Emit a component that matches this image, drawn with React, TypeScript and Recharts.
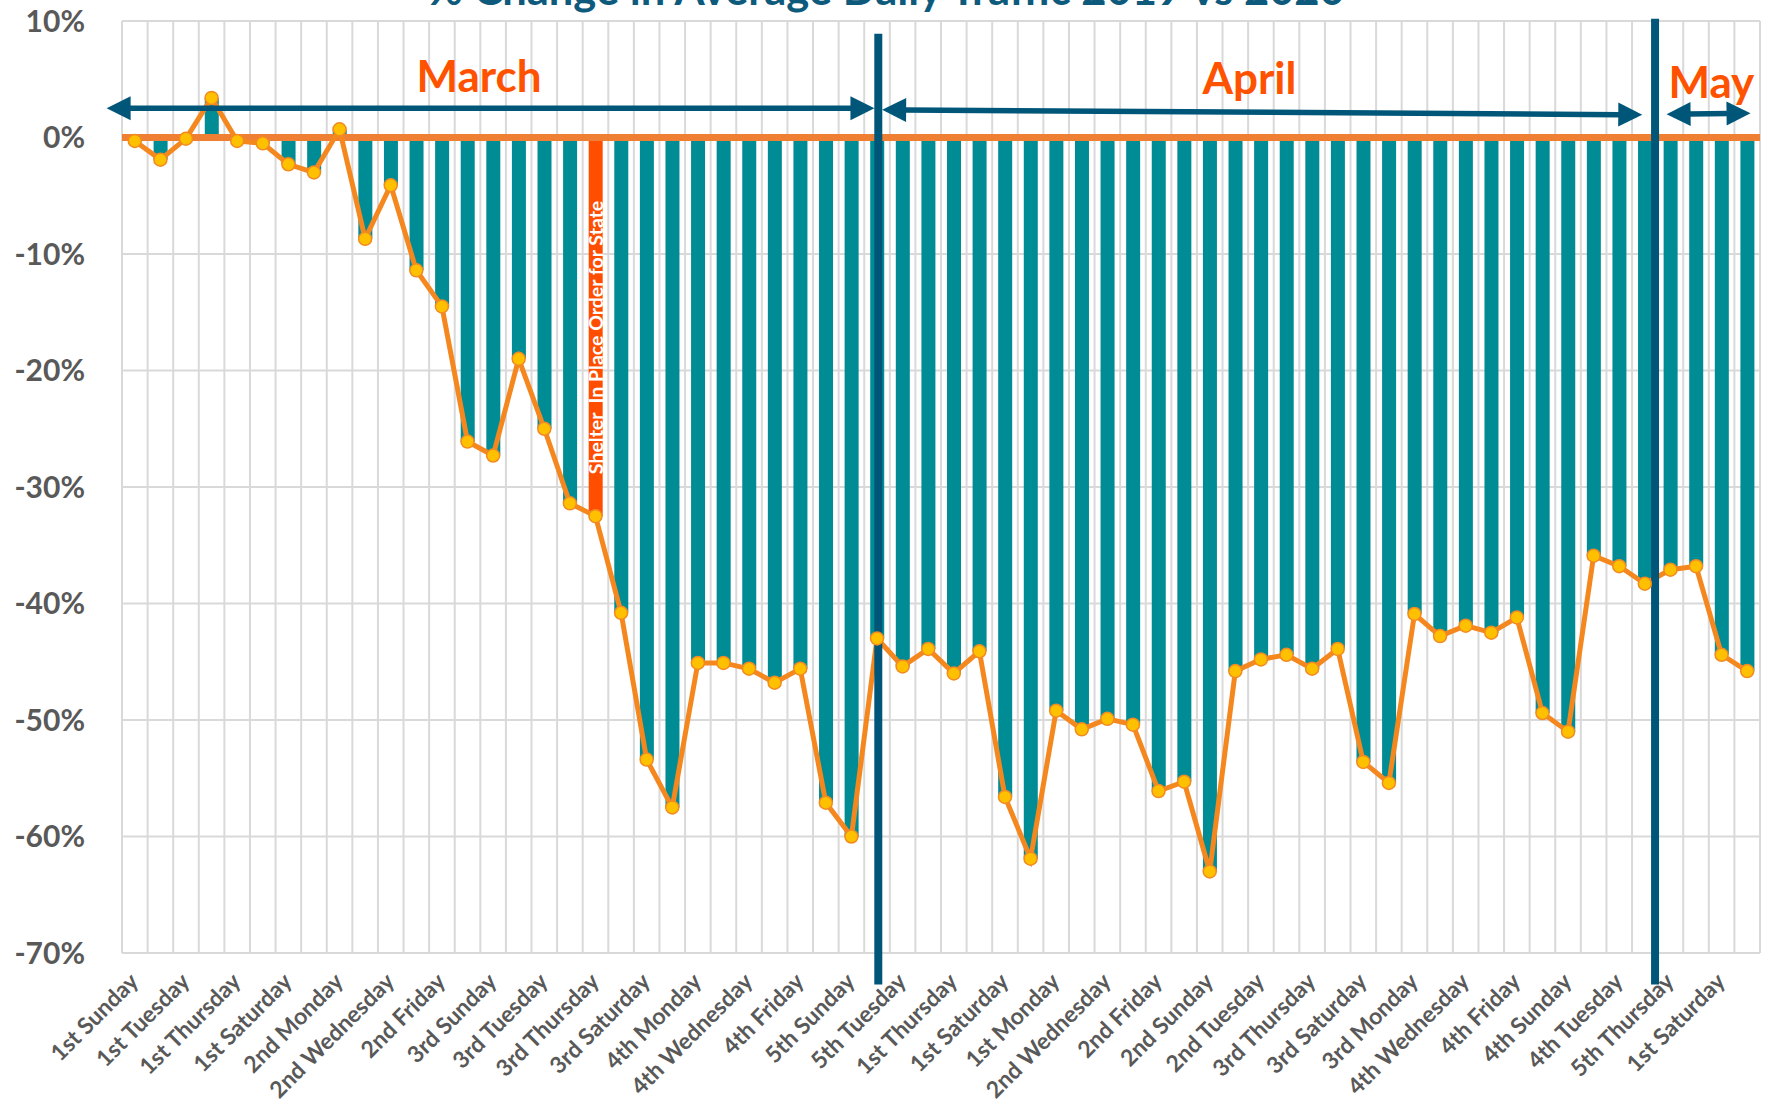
import {
  ComposedChart,
  Bar,
  Line,
  XAxis,
  YAxis,
  CartesianGrid,
  ReferenceLine,
  ReferenceDot,
  Cell,
  LabelList,
} from 'recharts'

// one entry per day, 1 March to 3 May 2020
const dates = [
  '3/1', '3/2', '3/3', '3/4', '3/5', '3/6', '3/7', '3/8', '3/9', '3/10', '3/11', '3/12', '3/13', '3/14', '3/15', '3/16',
  '3/17', '3/18', '3/19', '3/20', '3/21', '3/22', '3/23', '3/24', '3/25', '3/26', '3/27', '3/28', '3/29', '3/30', '3/31',
  '4/1', '4/2', '4/3', '4/4', '4/5', '4/6', '4/7', '4/8', '4/9', '4/10', '4/11', '4/12', '4/13', '4/14', '4/15', '4/16',
  '4/17', '4/18', '4/19', '4/20', '4/21', '4/22', '4/23', '4/24', '4/25', '4/26', '4/27', '4/28', '4/29', '4/30',
  '5/1', '5/2', '5/3',
]

const dayLabels = [
  '1st Sunday', '1st Monday', '1st Tuesday', '1st Wednesday', '1st Thursday', '1st Friday', '1st Saturday',
  '2nd Sunday', '2nd Monday', '2nd Tuesday', '2nd Wednesday', '2nd Thursday', '2nd Friday', '2nd Saturday',
  '3rd Sunday', '3rd Monday', '3rd Tuesday', '3rd Wednesday', '3rd Thursday', '3rd Friday', '3rd Saturday',
  '4th Sunday', '4th Monday', '4th Tuesday', '4th Wednesday', '4th Thursday', '4th Friday', '4th Saturday',
  '5th Sunday', '5th Monday', '5th Tuesday',
  '1st Wednesday', '1st Thursday', '1st Friday', '1st Saturday', '1st Sunday', '1st Monday', '1st Tuesday',
  '2nd Wednesday', '2nd Thursday', '2nd Friday', '2nd Saturday', '2nd Sunday', '2nd Monday', '2nd Tuesday',
  '3rd Wednesday', '3rd Thursday', '3rd Friday', '3rd Saturday', '3rd Sunday', '3rd Monday', '3rd Tuesday',
  '4th Wednesday', '4th Thursday', '4th Friday', '4th Saturday', '4th Sunday', '4th Monday', '4th Tuesday',
  '5th Wednesday', '5th Thursday',
  '1st Friday', '1st Saturday', '1st Sunday',
]

// % change in average daily traffic, 2019 vs 2020
const changePct = [
  -0.3, -1.9, -0.1, 3.4, -0.3, -0.5, -2.3, -3.0, 0.7, -8.7, -4.1, -11.4, -14.5, -26.1, -27.3, -19.0,
  -25.0, -31.4, -32.5, -40.8, -53.4, -57.5, -45.1, -45.1, -45.6, -46.8, -45.6, -57.1, -60.0, -43.0, -45.4,
  -43.9, -46.0, -44.1, -56.6, -61.9, -49.2, -50.8, -49.9, -50.4, -56.1, -55.3, -63.0, -45.8, -44.8, -44.4,
  -45.6, -43.9, -53.6, -55.4, -40.9, -42.8, -41.9, -42.5, -41.2, -49.4, -51.0, -35.9, -36.8, -38.3, -37.1,
  -36.8, -44.4, -45.8,
]

const yTicks = [-70, -60, -50, -40, -30, -20, -10, 0, 10]

const shelterDate = '3/19'
const shelterText = 'Shelter  In Place Order for State'

// month annotations, in day units (0..64 across the plot) and % units
const monthLabels = [
  { text: 'March', x: 13.95, y: 3.9 },
  { text: 'April', x: 44.05, y: 3.7 },
  { text: 'May', x: 62.1, y: 3.4 },
]
const monthArrows = [
  { x1: -0.6, y1: 2.52, x2: 29.4, y2: 2.52 },
  { x1: 29.7, y1: 2.38, x2: 59.4, y2: 1.95 },
  { x1: 60.35, y1: 2.0, x2: 63.63, y2: 2.08 },
]
const monthDividers = [
  { x: 29.55, top: 8.9, bottom: -72.7 },
  { x: 59.9, top: 10.2, bottom: -72.7 },
]

const data = dates.map((date, i) => ({ date, pct: changePct[i] }))
const labelByDate: Record<string, string> = Object.fromEntries(dates.map((d, i) => [d, dayLabels[i]]))

const TEAL = '#008C95'
const RED = '#FF4E00'
const ORANGE = '#F5871F'
const NAVY = '#005679'
const GRAY = '#595959'
const FONT = 'Lato, "Open Sans", sans-serif'

function DayTick({ x, y, payload }: any) {
  return (
    <text
      transform={`translate(${x + 5},${y + 30}) rotate(-45)`}
      textAnchor="end"
      fill={GRAY}
      fontSize={23}
      fontWeight={700}
      fontFamily={FONT}
    >
      {labelByDate[payload.value]}
    </text>
  )
}

function ShelterLabel(props: any) {
  const { x, y, width, height, index } = props
  if (dates[index] !== shelterDate) return null
  const cx = x + width / 2
  const bottom = Math.max(y, y + height)
  const sy = bottom - 42
  return (
    <text
      transform={`translate(${cx},${sy}) rotate(-90)`}
      textAnchor="start"
      dominantBaseline="central"
      fill="#ffffff"
      fontSize={19.5}
      fontWeight={700}
      fontFamily={FONT}
      style={{ whiteSpace: 'pre' }}
    >
      {shelterText}
    </text>
  )
}

const arrowShape = (p: any) => {
  const { x1, y1, x2, y2 } = p
  const len = Math.hypot(x2 - x1, y2 - y1)
  const ux = (x2 - x1) / len
  const uy = (y2 - y1) / len
  const L = 24
  const W = 12
  const head = (tx: number, ty: number, dx: number, dy: number) => {
    const bx = tx - dx * L
    const by = ty - dy * L
    return `${tx},${ty} ${bx - dy * W},${by + dx * W} ${bx + dy * W},${by - dx * W}`
  }
  return (
    <g>
      <line
        x1={x1 + ux * (L - 2)}
        y1={y1 + uy * (L - 2)}
        x2={x2 - ux * (L - 2)}
        y2={y2 - uy * (L - 2)}
        stroke={NAVY}
        strokeWidth={5.5}
      />
      <polygon points={head(x1, y1, -ux, -uy)} fill={NAVY} />
      <polygon points={head(x2, y2, ux, uy)} fill={NAVY} />
    </g>
  )
}

export default function App() {
  return (
    <div style={{ position: 'absolute', left: 0, top: 0, width: 1769, height: 1104, background: '#fff' }}>
      <svg width={1769} height={40} style={{ position: 'absolute', left: 0, top: 0 }}>
        <text x={886} y={5} textAnchor="middle" fill="#0E5A7C" fontSize={43.5} fontWeight={700} fontFamily={FONT}>
          % Change in Average Daily Traffic 2019 vs 2020
        </text>
      </svg>
      <ComposedChart width={1769} height={1104} data={data} margin={{ top: 21, right: 9, bottom: 0, left: 0 }}>
        <CartesianGrid
          stroke="#D9D9D9"
          strokeWidth={2}
          verticalCoordinatesGenerator={({ offset }: any) =>
            dates.concat(['end']).map((_, i) => offset.left + (i * offset.width) / dates.length)
          }
        />
        <XAxis
          dataKey="date"
          interval={1}
          height={151}
          tickLine={false}
          axisLine={false}
          tickSize={0}
          tickMargin={0}
          tick={<DayTick />}
        />
        <XAxis xAxisId="u" dataKey="u" type="number" domain={[0, 64]} hide allowDataOverflow />
        <YAxis
          width={122}
          domain={[-70, 10]}
          ticks={yTicks}
          tickFormatter={(v) => `${v}%`}
          tickLine={false}
          axisLine={false}
          tickSize={0}
          tickMargin={37}
          tick={{ fill: GRAY, fontSize: 30, fontWeight: 700, fontFamily: FONT }}
        />
        <Bar dataKey="pct" barSize={14} isAnimationActive={false}>
          {data.map((d) => (
            <Cell key={d.date} fill={d.date === shelterDate ? RED : TEAL} />
          ))}
          <LabelList dataKey="pct" content={ShelterLabel} />
        </Bar>
        <ReferenceLine y={0} stroke="#EE7F33" strokeWidth={7} />
        <Line
          dataKey="pct"
          stroke={ORANGE}
          strokeWidth={5}
          dot={{ r: 6.5, fill: '#FFC000', stroke: '#F28A22', strokeWidth: 1.5 }}
          activeDot={false}
          isAnimationActive={false}
        />
        {monthDividers.map((m) => (
          <ReferenceLine
            key={m.x}
            xAxisId="u"
            segment={[
              { x: m.x, y: m.top },
              { x: m.x, y: m.bottom },
            ]}
            stroke={NAVY}
            strokeWidth={8}
            ifOverflow="visible"
          />
        ))}
        {monthArrows.map((a) => (
          <ReferenceLine
            key={a.x1}
            xAxisId="u"
            segment={[
              { x: a.x1, y: a.y1 },
              { x: a.x2, y: a.y2 },
            ]}
            ifOverflow="visible"
            shape={arrowShape}
          />
        ))}
        {monthLabels.map((m) => (
          <ReferenceDot
            key={m.text}
            xAxisId="u"
            x={m.x}
            y={m.y}
            r={0}
            ifOverflow="visible"
            shape={(p: any) => (
              <text
                x={p.cx}
                y={p.cy}
                textAnchor="middle"
                fill="#FF5200"
                fontSize={44}
                fontWeight={700}
                fontFamily={FONT}
              >
                {m.text}
              </text>
            )}
          />
        ))}
      </ComposedChart>
    </div>
  )
}
